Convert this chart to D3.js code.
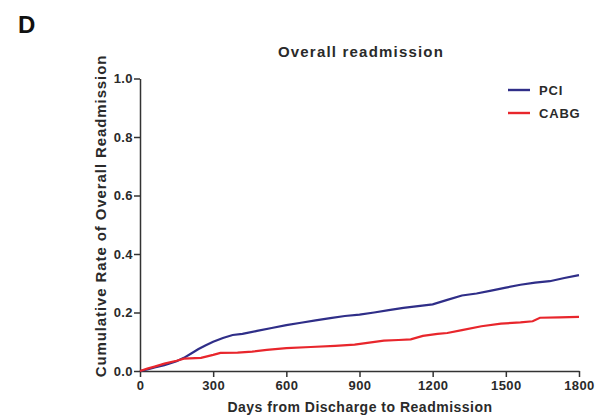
<!DOCTYPE html>
<html>
<head>
<meta charset="utf-8">
<script src="https://cdn.jsdelivr.net/npm/d3@7"></script>
<style>
  html, body { margin: 0; padding: 0; background: #fff; }
  svg { display: block; font-family: "Liberation Sans", Arial, sans-serif; }
</style>
</head>
<body>
<svg id="chart" width="599" height="416"></svg>
<script>
// Cumulative readmission rate by days after discharge
const pciDays = [0, 30, 60, 100, 150, 180, 210, 240, 270, 300, 340, 380, 420, 480, 540, 600, 660, 720, 780, 840, 900, 960, 1020, 1080, 1140, 1200, 1260, 1320, 1380, 1440, 1500, 1560, 1620, 1680, 1740, 1800];
const pciRate = [0, 0.005, 0.012, 0.02, 0.033, 0.045, 0.06, 0.075, 0.088, 0.1, 0.113, 0.123, 0.127, 0.137, 0.147, 0.157, 0.165, 0.173, 0.181, 0.188, 0.193, 0.2, 0.208, 0.216, 0.222, 0.228, 0.243, 0.258, 0.265, 0.275, 0.285, 0.295, 0.302, 0.307, 0.318, 0.328];
const cabgDays = [0, 30, 60, 100, 150, 180, 250, 300, 330, 400, 460, 520, 600, 700, 800, 880, 940, 1000, 1060, 1110, 1160, 1220, 1260, 1320, 1400, 1480, 1560, 1610, 1640, 1720, 1800];
const cabgRate = [0, 0.008, 0.015, 0.025, 0.035, 0.042, 0.045, 0.055, 0.062, 0.063, 0.066, 0.072, 0.078, 0.082, 0.086, 0.09, 0.097, 0.104, 0.106, 0.108, 0.12, 0.127, 0.13, 0.14, 0.153, 0.162, 0.166, 0.17, 0.182, 0.183, 0.185];
const seriesNames = ["PCI", "CABG"];
const seriesColors = ["#2f2e88", "#e8262c"];
const xTicks = [0, 300, 600, 900, 1200, 1500, 1800];
const yTicks = [0, 0.2, 0.4, 0.6, 0.8, 1.0];

const svg = d3.select("#chart");
const x = d3.scaleLinear().domain([0, 1800]).range([140, 579]);
const y = d3.scaleLinear().domain([0, 1]).range([371, 78.5]);
const axisColor = "#333";
const textColor = "#2a2a2a";

// Panel letter and title
svg.append("text").attr("x", 18).attr("y", 33)
  .attr("font-size", 24).attr("font-weight", "bold").attr("fill", "#111").text("D");
svg.append("text").attr("x", 361).attr("y", 57).attr("text-anchor", "middle")
  .attr("font-size", 15).attr("letter-spacing", 1.2).attr("font-weight", "bold")
  .attr("fill", textColor).text("Overall readmission");

// Axes
const xAxis = svg.append("g").attr("transform", `translate(0,${y(0)})`)
  .call(d3.axisBottom(x).tickValues(xTicks).tickFormat(d3.format("d")).tickSize(6).tickSizeOuter(0));
const yAxis = svg.append("g").attr("transform", `translate(${x(0)},0)`)
  .call(d3.axisLeft(y).tickValues(yTicks).tickFormat(d3.format(".1f")).tickSize(6).tickSizeOuter(0));
[xAxis, yAxis].forEach(g => {
  g.select(".domain").attr("stroke", axisColor).attr("stroke-width", 1.5);
  g.selectAll(".tick line").attr("stroke", axisColor).attr("stroke-width", 1.5);
  g.selectAll(".tick text").attr("fill", textColor).attr("font-size", 13).attr("font-weight", "bold")
    .attr("letter-spacing", 0.4).attr("font-family", "Liberation Sans, Arial, sans-serif");
});
xAxis.selectAll(".tick text").attr("y", 8).attr("dy", "0.85em");
yAxis.selectAll(".tick text").attr("x", -7).attr("dy", "0.34em");

// Axis titles
svg.append("text").attr("x", 360).attr("y", 412).attr("text-anchor", "middle")
  .attr("font-size", 14).attr("letter-spacing", 0.5).attr("font-weight", "bold").attr("fill", textColor)
  .text("Days from Discharge to Readmission");
svg.append("text").attr("transform", "translate(106,216) rotate(-90)")
  .attr("text-anchor", "middle").attr("font-size", 15).attr("letter-spacing", 0.9)
  .attr("font-weight", "bold").attr("fill", textColor)
  .text("Cumulative Rate of Overall Readmission");

// Curves
const line = d3.line().x(d => x(d[0])).y(d => y(d[1]));
const series = [
  d3.zip(pciDays, pciRate),
  d3.zip(cabgDays, cabgRate)
];
series.forEach((pts, i) => {
  svg.append("path").datum(pts).attr("d", line)
    .attr("fill", "none").attr("stroke", seriesColors[i]).attr("stroke-width", 2.2);
});

// Legend
seriesNames.forEach((name, i) => {
  const ly = 90 + i * 23;
  svg.append("line").attr("x1", 508).attr("x2", 530).attr("y1", ly).attr("y2", ly)
    .attr("stroke", seriesColors[i]).attr("stroke-width", 2.4);
  svg.append("text").attr("x", 539).attr("y", ly + 5).attr("font-size", 13).attr("letter-spacing", 0.8)
    .attr("font-weight", "bold").attr("fill", textColor).text(name);
});
</script>
</body>
</html>
